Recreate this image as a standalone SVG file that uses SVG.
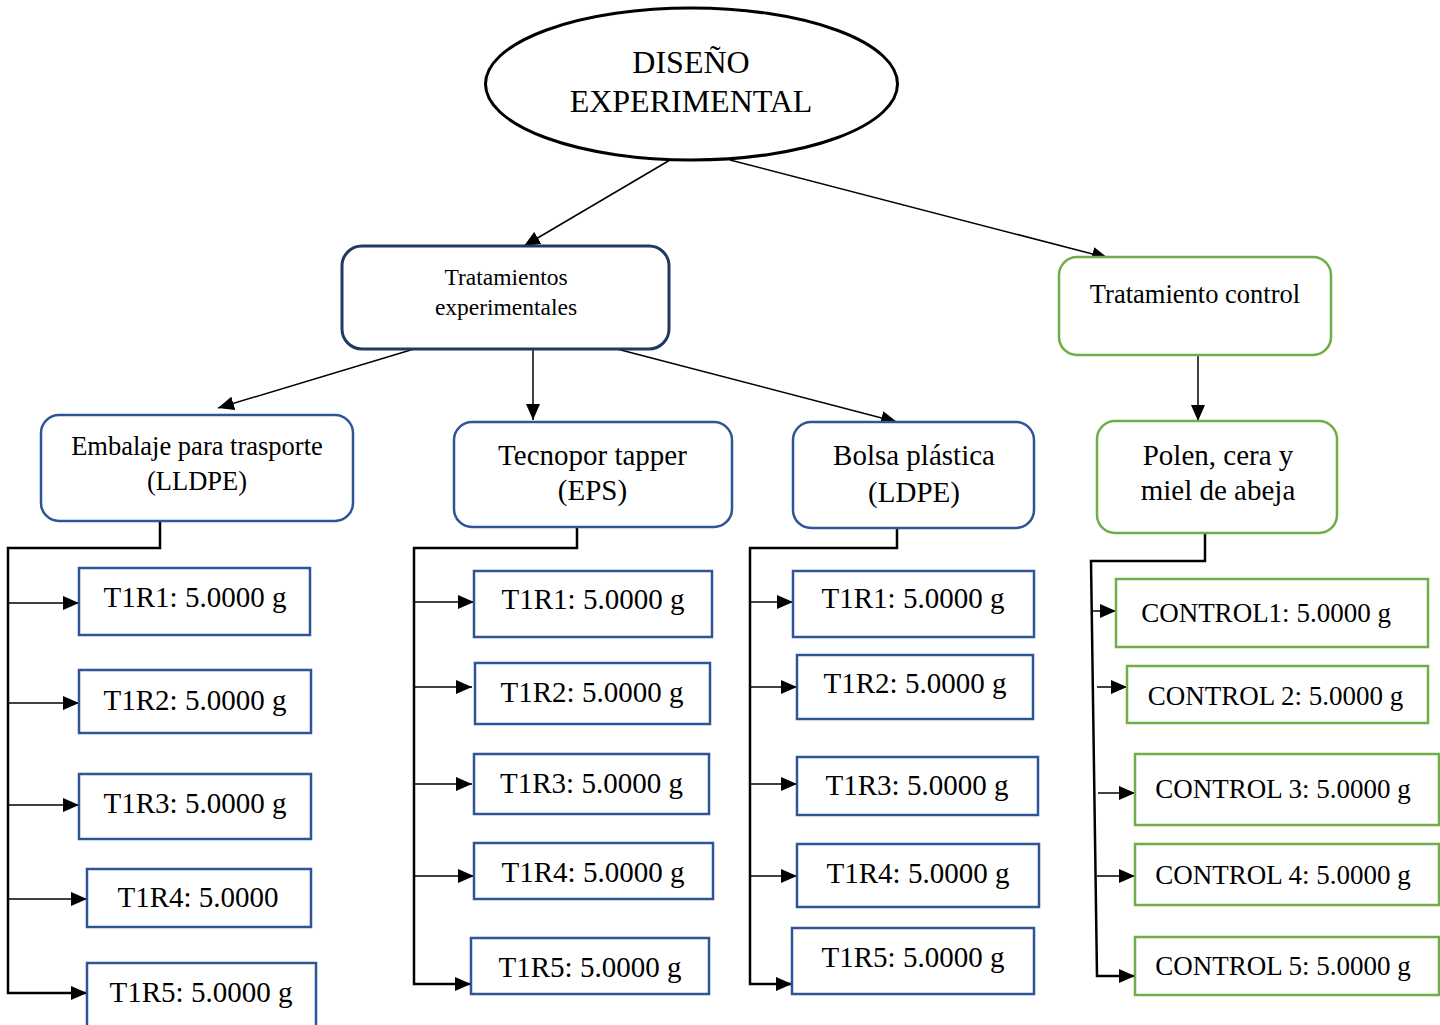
<svg xmlns="http://www.w3.org/2000/svg" width="1440" height="1025" viewBox="0 0 1440 1025">
<style>
text{font-family:"Liberation Serif","Times New Roman",serif;fill:#000;text-anchor:middle}
.blue{fill:#fff;stroke:#2f5597;stroke-width:2.5}
.navy{fill:#fff;stroke:#1f3864;stroke-width:3}
.green{fill:#fff;stroke:#70ad47;stroke-width:2.5}
.c{fill:none;stroke:#000;stroke-width:1.5;marker-end:url(#ah)}
.t{fill:none;stroke:#000;stroke-width:2.5;marker-end:url(#ah)}
.s29{font-size:29px}
.s28{font-size:27px}
</style>
<defs>
<marker id="ah" markerUnits="userSpaceOnUse" markerWidth="16" markerHeight="14" refX="16" refY="7" orient="auto">
<path d="M0,0 L16,7 L0,14 z" fill="#000"/>
</marker>
</defs>
<rect width="1440" height="1025" fill="#fff"/>

<g id="connectors">
<line class="c" x1="670" y1="160" x2="524" y2="246"/>
<line class="c" x1="730" y1="160" x2="1108" y2="258"/>
<line class="c" x1="414" y1="349" x2="218" y2="408"/>
<line class="c" x1="533" y1="349" x2="533" y2="420"/>
<line class="c" x1="617" y1="349" x2="897" y2="422"/>
<line class="c" x1="1198" y1="355" x2="1198" y2="421"/>
<path class="t" d="M160,521 V548 H8 V993 H87"/>
<line class="c" x1="8" y1="603" x2="79" y2="603"/>
<line class="c" x1="8" y1="703" x2="79" y2="703"/>
<line class="c" x1="8" y1="805" x2="79" y2="805"/>
<line class="c" x1="8" y1="899" x2="87" y2="899"/>
<path class="t" d="M577,527 V548 H414 V984 H471"/>
<line class="c" x1="414" y1="602" x2="474" y2="602"/>
<line class="c" x1="414" y1="687" x2="472" y2="687"/>
<line class="c" x1="414" y1="784" x2="472" y2="784"/>
<line class="c" x1="414" y1="876" x2="474" y2="876"/>
<path class="t" d="M897,529 V548 H750 V984 H792"/>
<line class="c" x1="750" y1="602" x2="793" y2="602"/>
<line class="c" x1="750" y1="687" x2="797" y2="687"/>
<line class="c" x1="750" y1="784" x2="797" y2="784"/>
<line class="c" x1="750" y1="876" x2="797" y2="876"/>
<path class="t" d="M1205,533 V561 H1091 L1097,976 H1135"/>
<line class="c" x1="1091" y1="611" x2="1116" y2="611"/>
<line class="c" x1="1097" y1="687" x2="1127" y2="687"/>
<line class="c" x1="1098" y1="793" x2="1135" y2="793"/>
<line class="c" x1="1097" y1="876" x2="1135" y2="876"/>
</g>

<g id="diseno">
<ellipse cx="691.5" cy="84" rx="206" ry="76" fill="#fff" stroke="#000" stroke-width="3"/>
<text x="691" y="73" font-size="32">DISEÑO</text>
<text x="691" y="112" font-size="32">EXPERIMENTAL</text>
</g>

<g id="tratamientos">
<rect class="navy" x="342" y="246" width="327" height="103" rx="20"/>
<text x="506" y="285" font-size="23.5">Tratamientos</text>
<text x="506" y="315" font-size="23.5">experimentales</text>
</g>

<g id="control">
<rect class="green" x="1059" y="257" width="272" height="98" rx="18"/>
<text x="1195" y="303" font-size="26.5">Tratamiento control</text>
</g>

<g id="embalaje">
<rect class="blue" x="41" y="415" width="312" height="106" rx="18"/>
<text x="197" y="455" font-size="26.5">Embalaje para trasporte</text>
<text x="197" y="490" font-size="26.5">(LLDPE)</text>
</g>

<g id="tecnopor">
<rect class="blue" x="454" y="422" width="278" height="105" rx="18"/>
<text x="592.5" y="465" font-size="29">Tecnopor tapper</text>
<text x="592.5" y="500" font-size="29">(EPS)</text>
</g>

<g id="bolsa">
<rect class="blue" x="793" y="422" width="241" height="106" rx="18"/>
<text x="914" y="465" font-size="29">Bolsa plástica</text>
<text x="914" y="502" font-size="29">(LDPE)</text>
</g>

<g id="polen">
<rect class="green" x="1097" y="421" width="240" height="112" rx="18"/>
<text x="1218" y="465" font-size="29">Polen, cera y</text>
<text x="1218" y="500" font-size="29">miel de abeja</text>
</g>

<g id="emb-r1"><rect class="blue" x="79" y="568" width="231" height="67"/><text class="s29" x="195" y="607">T1R1: 5.0000 g</text></g>
<g id="emb-r2"><rect class="blue" x="79" y="670" width="232" height="63"/><text class="s29" x="195" y="710">T1R2: 5.0000 g</text></g>
<g id="emb-r3"><rect class="blue" x="79" y="774" width="232" height="65"/><text class="s29" x="195" y="813">T1R3: 5.0000 g</text></g>
<g id="emb-r4"><rect class="blue" x="87" y="869" width="224" height="58"/><text class="s29" x="198" y="907">T1R4: 5.0000</text></g>
<g id="emb-r5"><rect class="blue" x="87" y="963" width="229" height="70"/><text class="s29" x="201" y="1002">T1R5: 5.0000 g</text></g>

<g id="tec-r1"><rect class="blue" x="474" y="571" width="238" height="66"/><text class="s29" x="593" y="609">T1R1: 5.0000 g</text></g>
<g id="tec-r2"><rect class="blue" x="475" y="663" width="235" height="61"/><text class="s29" x="592" y="702">T1R2: 5.0000 g</text></g>
<g id="tec-r3"><rect class="blue" x="474" y="754" width="235" height="60"/><text class="s29" x="591.5" y="793">T1R3: 5.0000 g</text></g>
<g id="tec-r4"><rect class="blue" x="474" y="843" width="239" height="56"/><text class="s29" x="593" y="882">T1R4: 5.0000 g</text></g>
<g id="tec-r5"><rect class="blue" x="471" y="938" width="238" height="56"/><text class="s29" x="590" y="977">T1R5: 5.0000 g</text></g>

<g id="bol-r1"><rect class="blue" x="793" y="571" width="241" height="66"/><text class="s29" x="913" y="608">T1R1: 5.0000 g</text></g>
<g id="bol-r2"><rect class="blue" x="797" y="655" width="236" height="64"/><text class="s29" x="915" y="693">T1R2: 5.0000 g</text></g>
<g id="bol-r3"><rect class="blue" x="797" y="757" width="241" height="58"/><text class="s29" x="917" y="795">T1R3: 5.0000 g</text></g>
<g id="bol-r4"><rect class="blue" x="797" y="844" width="242" height="63"/><text class="s29" x="918" y="883">T1R4: 5.0000 g</text></g>
<g id="bol-r5"><rect class="blue" x="792" y="928" width="242" height="66"/><text class="s29" x="913" y="967">T1R5: 5.0000 g</text></g>

<g id="ctl-1"><rect class="green" x="1116" y="579" width="312" height="68"/><text class="s28" x="1266" y="622">CONTROL1: 5.0000 g</text></g>
<g id="ctl-2"><rect class="green" x="1127" y="666" width="301" height="57"/><text class="s28" x="1275.5" y="705">CONTROL 2: 5.0000 g</text></g>
<g id="ctl-3"><rect class="green" x="1135" y="754" width="304" height="71"/><text class="s28" x="1283" y="798">CONTROL 3: 5.0000 g</text></g>
<g id="ctl-4"><rect class="green" x="1135" y="844" width="304" height="61"/><text class="s28" x="1283" y="884">CONTROL 4: 5.0000 g</text></g>
<g id="ctl-5"><rect class="green" x="1135" y="937" width="304" height="58"/><text class="s28" x="1283" y="975">CONTROL 5: 5.0000 g</text></g>
</svg>
